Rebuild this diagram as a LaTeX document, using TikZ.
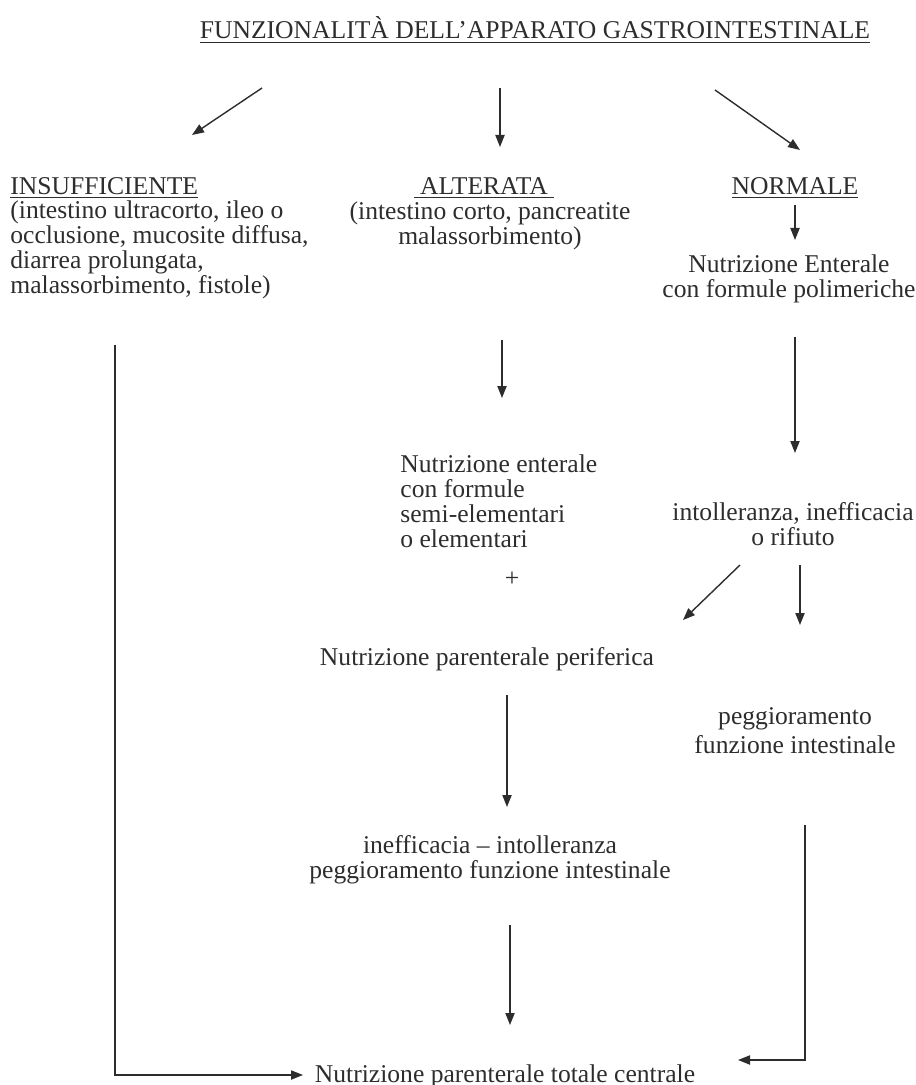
\documentclass[tikz,border=0pt]{standalone}
\usepackage{fontspec}
\setmainfont{Liberation Serif}
\usetikzlibrary{arrows.meta}
\definecolor{ink}{RGB}{45,45,45}
\tikzset{
  txt/.style={inner sep=0pt, text=ink, align=center,
    font=\fontsize{12.8}{12.5}\selectfont},
  txtl/.style={txt, align=left},
  arr/.style={draw=ink, line width=0.7pt, -{Triangle[length=6pt,width=4.6pt]}}
}
\begin{document}
\begin{tikzpicture}[x=0.5pt,y=-0.5pt]
    \useasboundingbox (0,0) rectangle (915,1085);
    %% title
    \node[txt] (title) at (535,30) {\underline{FUNZIONALITÀ DELL’APPARATO GASTROINTESTINALE}};
    %% three headings
    \node[txt,anchor=west] (hIns) at (10,188) {\underline{INSUFFICIENTE}};
    \node[txt] (hAlt) at (484,188) {\underline{\ ALTERATA\ }};
    \node[txt] (hNorm) at (795,188) {\underline{NORMALE}};
    %% descriptions
    \node[txtl,anchor=west] (dIns) at (10,250) {(intestino ultracorto, ileo o\\occlusione, mucosite diffusa,\\diarrea prolungata,\\malassorbimento, fistole)};
    \node[txt] (dAlt) at (490,226) {(intestino corto, pancreatite\\malassorbimento)};
    \node[txt] (nEnt) at (789,279) {Nutrizione Enterale\\con formule polimeriche};
    %% middle of the chart
    \node[txtl,anchor=west] (nSemi) at (400,501) {Nutrizione enterale\\con formule\\semi-elementari\\o elementari};
    \node[txt] (intol) at (793,524) {intolleranza, inefficacia\\o rifiuto};
    \node[txt] (plus) at (512,579) {+};
    \node[txt] (perif) at (487,659) {Nutrizione parenterale periferica};
    \node[txt] (pegg) at (795,731) {peggioramento\\[2pt]funzione intestinale};
    \node[txt] (ineff) at (490,860) {inefficacia – intolleranza\\peggioramento funzione intestinale};
    \node[txt] (tpn) at (505,1076) {Nutrizione parenterale totale centrale};
    %% arrow ends
    \coordinate (t1) at (262,88);  \coordinate (t1e) at (192,135);
    \coordinate (t2) at (500,88);  \coordinate (t2e) at (500,147);
    \coordinate (t3) at (715,90);  \coordinate (t3e) at (800,150);
    \coordinate (n1) at (795,205); \coordinate (n1e) at (795,240);
    \coordinate (a1) at (502,340); \coordinate (a1e) at (502,398);
    \coordinate (n2) at (795,337); \coordinate (n2e) at (795,453);
    \coordinate (i1) at (740,565); \coordinate (i1e) at (683,620);
    \coordinate (i2) at (800,565); \coordinate (i2e) at (800,625);
    \coordinate (p1) at (507,695); \coordinate (p1e) at (507,807);
    \coordinate (e1) at (510,925); \coordinate (e1e) at (510,1025);
    \coordinate (l1) at (115,345); \coordinate (l1e) at (303,1075);
    \coordinate (r1) at (805,825); \coordinate (r1e) at (738,1060);
    %% arrows
    \draw[arr] (t1) -- (t1e);
    \draw[arr] (t2) -- (t2e);
    \draw[arr] (t3) -- (t3e);
    \draw[arr] (n1) -- (n1e);
    \draw[arr] (a1) -- (a1e);
    \draw[arr] (n2) -- (n2e);
    \draw[arr] (i1) -- (i1e);
    \draw[arr] (i2) -- (i2e);
    \draw[arr] (p1) -- (p1e);
    \draw[arr] (e1) -- (e1e);
    %% side paths to the last box
    \draw[arr] (l1) |- (l1e);
    \draw[arr] (r1) |- (r1e);
\end{tikzpicture}
\end{document}
